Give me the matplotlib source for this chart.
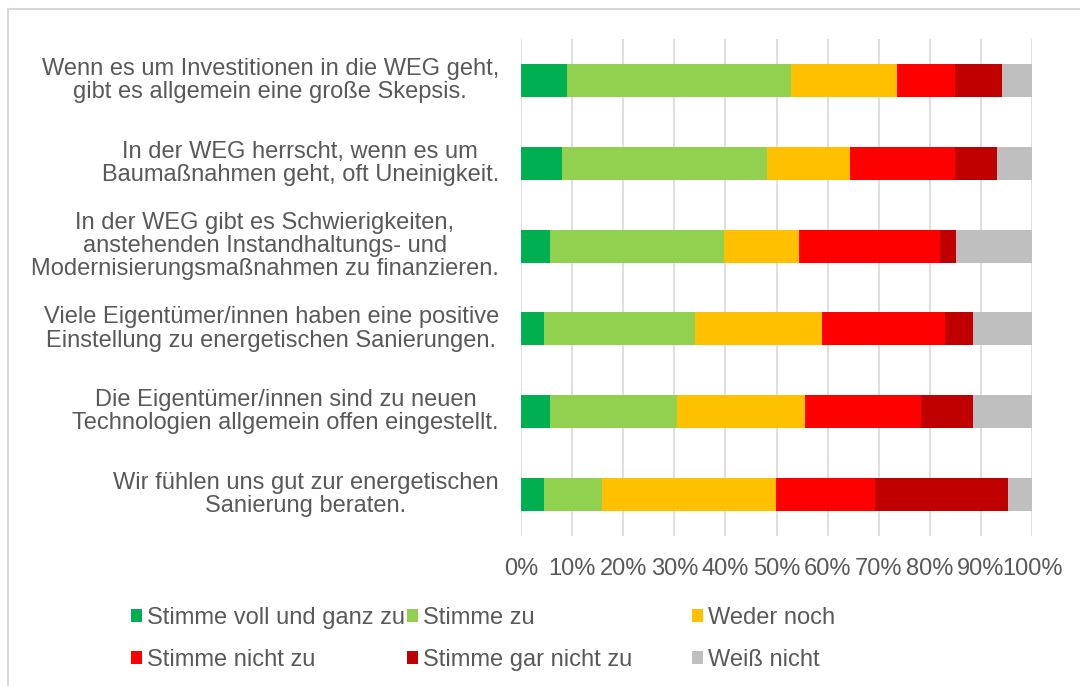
import numpy as np
import matplotlib.pyplot as plt
from matplotlib.patches import Patch
from matplotlib.lines import Line2D

plt.rcParams['font.family'] = ['Liberation Sans', 'DejaVu Sans']

# <codecell> data (shares in %)
statements = [
    'Wenn es um Investitionen in die WEG geht,\ngibt es allgemein eine große Skepsis.',
    'In der WEG herrscht, wenn es um\nBaumaßnahmen geht, oft Uneinigkeit.',
    'In der WEG gibt es Schwierigkeiten,\nanstehenden Instandhaltungs- und\nModernisierungsmaßnahmen zu finanzieren.',
    'Viele Eigentümer/innen haben eine positive\nEinstellung zu energetischen Sanierungen.',
    'Die Eigentümer/innen sind zu neuen\nTechnologien allgemein offen eingestellt.',
    'Wir fühlen uns gut zur energetischen\nSanierung beraten.',
]
answers = ['Stimme voll und ganz zu', 'Stimme zu', 'Weder noch',
           'Stimme nicht zu', 'Stimme gar nicht zu', 'Weiß nicht']
voll_zu = [9.0, 8.0, 5.6, 4.5, 5.6, 4.5]
zu = [43.8, 40.2, 34.1, 29.5, 25.0, 11.3]
weder = [20.7, 16.1, 14.8, 25.0, 25.0, 34.1]
nicht_zu = [11.5, 20.7, 27.4, 24.0, 22.7, 19.4]
gar_nicht = [9.2, 8.1, 3.3, 5.5, 10.2, 26.1]
weiss_nicht = [5.8, 6.9, 14.8, 11.5, 11.5, 4.6]
colors = ['#00B050', '#92D050', '#FFC000', '#FF0000', '#C00000', '#BFBFBF']

series = [voll_zu, zu, weder, nicht_zu, gar_nicht, weiss_nicht]
txt = '#595959'
fs = 17

# <codecell>
fig = plt.figure(figsize=(10.8, 6.86), dpi=100)
W, H = 1080, 686
ax = fig.add_axes([521 / W, 1 - 536 / H, (1032 - 521) / W, (536 - 39) / H])

y = np.arange(len(statements))
left = np.zeros(len(statements))
for vals, col, name in zip(series, colors, answers):
    ax.barh(y, vals, left=left, height=0.4, color=col, label=name, zorder=3)
    left += np.array(vals)

ax.set_xlim(0, 100)
ax.set_ylim(len(statements) - 0.5, -0.5)
ax.set_xticks(np.arange(0, 101, 10))
ax.set_xticklabels(['%d%%' % v for v in range(0, 101, 10)])
ax.set_yticks(y)
ax.set_yticklabels(statements, ha='right', multialignment='center',
                   linespacing=1.08, va='center')
for lab in ax.get_yticklabels():
    lab.set_y(lab.get_position()[1])
ax.tick_params(axis='both', length=0, labelsize=fs, labelcolor=txt)
ax.tick_params(axis='y', pad=16)
ax.tick_params(axis='x', pad=16)
ax.grid(axis='x', color='#D9D9D9', linewidth=1.2, zorder=0)
for s in ax.spines.values():
    s.set_visible(False)

# legend, three columns placed like the original
cols_x = [131, 407, 692]
for i, cx in enumerate(cols_x):
    handles = [Patch(facecolor=colors[j], label=answers[j]) for j in (i, i + 3)]
    fig.legend(handles=handles, loc='upper left',
               bbox_to_anchor=(cx / W, 1 - 607 / H), frameon=False,
               fontsize=fs, labelcolor=txt, handlelength=0.47,
               handleheight=0.47, handletextpad=0.2, labelspacing=0.86,
               borderpad=0, borderaxespad=0)

# outer frame
fig.add_artist(Line2D([8 / W, 8 / W], [0, 1 - 9 / H], color='#D9D9D9', lw=1.5))
fig.add_artist(Line2D([8 / W, 1], [1 - 9 / H, 1 - 9 / H], color='#D9D9D9', lw=1.5))

fig.savefig('out.png', dpi=100)
